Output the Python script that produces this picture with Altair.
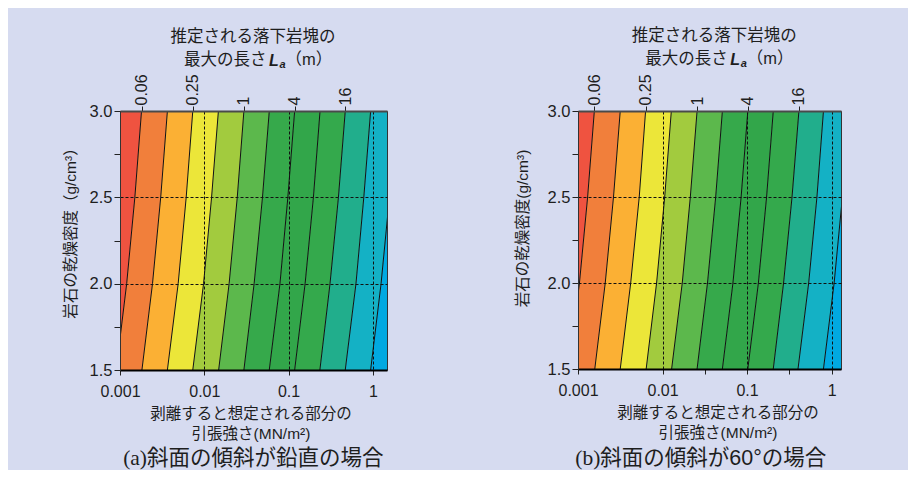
import altair as alt
import pandas as pd

# ---------------- data ----------------
RHO_ROWS = [1.5, 2.0, 2.5, 3.0]                      # dry density rows (g/cm3)
LA_LEVELS = [0.06, 0.125, 0.25, 0.5, 1, 2, 4, 8, 16, 32, 64]   # contour levels La (m)

# tensile strength (MN/m2) where each contour crosses the density rows
# (a) vertical slope
A_SIG_15 = [0.00090, 0.00182, 0.00365, 0.0073, 0.0148, 0.0295, 0.059, 0.118, 0.235, 0.47, 0.94]
A_SIG_20 = [0.00120, 0.00243, 0.0049, 0.0098, 0.0197, 0.039, 0.079, 0.157, 0.31, 0.63, 1.25]
A_SIG_25 = [0.00150, 0.00304, 0.0061, 0.0122, 0.0246, 0.049, 0.098, 0.197, 0.39, 0.78, 1.57]
A_SIG_30 = [0.00180, 0.00365, 0.0073, 0.0147, 0.0295, 0.059, 0.118, 0.236, 0.47, 0.94, 1.88]
# (b) 60 degree slope
B_SIG_15 = [0.00078, 0.00158, 0.00316, 0.0064, 0.0128, 0.0256, 0.051, 0.102, 0.204, 0.40, 0.80]
B_SIG_20 = [0.00104, 0.00210, 0.0042, 0.0085, 0.0171, 0.034, 0.068, 0.136, 0.27, 0.535, 1.07]
B_SIG_25 = [0.00130, 0.00263, 0.0053, 0.0106, 0.0213, 0.0425, 0.085, 0.170, 0.34, 0.67, 1.34]
B_SIG_30 = [0.00156, 0.00316, 0.0063, 0.0127, 0.0256, 0.051, 0.102, 0.204, 0.41, 0.80, 1.60]

BAND_COLORS = ["#ef5340", "#f17f3b", "#fbb034", "#ece639", "#a2cb3e", "#5cb84c",
               "#36a94b", "#32a64a", "#34a94c", "#21ae8c", "#14b1c5", "#01a9e1"]

TOP_LABELS = ["0.06", "0.25", "1", "4", "16"]
A_TOP_VALS = [0.00180, 0.0073, 0.0295, 0.118, 0.47]
B_TOP_VALS = [0.00156, 0.0063, 0.0256, 0.102, 0.41]
BOTTOM_MAJOR = [0.001, 0.01, 0.1, 1]
BOTTOM_GRID = [0.01, 0.1, 1]
A_BOTTOM_MINOR = []
B_BOTTOM_MINOR = [0.0316, 0.316]
Y_TICKS = [1.5, 1.75, 2.0, 2.25, 2.5, 2.75, 3.0]
Y_MAJOR = [1.5, 2.0, 2.5, 3.0]
Y_GRID = [2.0, 2.5]

BG = "#d6dbf0"
INK = "#1e1e1e"
LATIN = "Liberation Sans, Noto Sans CJK JP"
CJK = "Liberation Sans, Noto Sans CJK JP"
SERIF = "Liberation Serif"


def eq_any(vals):
    return " || ".join("abs(datum.value - %r) < %r" % (v, v * 0.001) for v in vals)


def top_label_expr(vals, labels):
    expr = "''"
    for v, lab in reversed(list(zip(vals, labels))):
        expr = "abs(datum.value - %r) < %r ? '%s' : (%s)" % (v, v * 0.01, lab, expr)
    return expr


def txt(s, x, y, size, align="center", baseline="middle", font=CJK, weight="normal",
        style="normal"):
    return alt.Chart(pd.DataFrame({"t": [s]})).mark_text(
        align=align, baseline=baseline, font=font, fontSize=size, fontWeight=weight,
        fontStyle=style, color=INK
    ).encode(x=alt.value(x), y=alt.value(y), text="t:N")


def panel(sig_rows, xmax, w, h, top_vals, minor_x, ytitle, ytx, yty, texts):
    n = len(LA_LEVELS)
    bands = []
    for i in range(n + 1):
        for rho, lst in zip(RHO_ROWS, sig_rows):
            lo = lst[i - 1] if i > 0 else 0.0003
            hi = lst[i] if i < n else 6.0
            bands.append({"band": i, "rho": rho, "lo": lo, "hi": hi})
    bdf = pd.DataFrame(bands)
    ldf = pd.DataFrame([{"level": LA_LEVELS[k], "rho": rho, "sig": lst[k]}
                        for k in range(n) for rho, lst in zip(RHO_ROWS, sig_rows)])

    xs = alt.Scale(type="log", domain=[0.001, xmax], nice=False)
    ys = alt.Scale(domain=[1.5, 3.0], nice=False, zero=False)

    bottom_axis = alt.Axis(
        orient="bottom", values=BOTTOM_MAJOR + minor_x,
        labelExpr="(%s) ? datum.label : ''" % eq_any(BOTTOM_MAJOR), format="~g",
        grid=True, gridDash=[3, 2], gridColor="#111", gridWidth=1,
        gridOpacity={"condition": {"test": eq_any(BOTTOM_GRID), "value": 1}, "value": 0},
        domainColor="#000", domainWidth=2, tickColor="#222", tickSize=5, tickWidth=1,
        labelFont=LATIN, labelFontSize=16, labelColor=INK, labelPadding=8,
        labelFlush=False, labelOverlap=False, title=None, zindex=1)
    top_axis = alt.Axis(
        orient="top", values=top_vals, labelExpr=top_label_expr(top_vals, TOP_LABELS),
        grid=False, domainColor="#4a4a4a", domainWidth=2, tickColor="#222", tickSize=5,
        labelAngle=270, labelAlign="left", labelBaseline="middle", labelPadding=1,
        labelFont=LATIN, labelFontSize=16, labelColor=INK, labelFlush=False,
        labelOverlap=False, title=None, zindex=1)
    y_axis = alt.Axis(
        orient="left", values=Y_TICKS,
        labelExpr="(%s) ? format(datum.value, '.1f') : ''" % eq_any(Y_MAJOR),
        grid=True, gridDash=[3, 2], gridColor="#111", gridWidth=1,
        gridOpacity={"condition": {"test": eq_any(Y_GRID), "value": 1}, "value": 0},
        domainColor="#333", domainWidth=1, tickColor="#222", tickSize=6,
        labelFont=LATIN, labelFontSize=16.5, labelColor=INK, labelPadding=2,
        labelFlush=False, labelOverlap=False,
        title=ytitle, titleFont=CJK, titleFontSize=15.5, titleFontWeight="normal",
        titleColor=INK, titleX=ytx, titleY=yty, titleAngle=270, titleAlign="center",
        titleBaseline="middle", zindex=1)

    area = alt.Chart(bdf).mark_area(orient="horizontal", clip=True).encode(
        y=alt.Y("rho:Q", scale=ys, axis=y_axis),
        x=alt.X("lo:Q", scale=xs, axis=bottom_axis),
        x2="hi:Q",
        color=alt.Color("band:N", scale=alt.Scale(domain=list(range(n + 1)), range=BAND_COLORS),
                        legend=None),
    )
    lines = alt.Chart(ldf).mark_line(clip=True, color="#111", strokeWidth=1).encode(
        x=alt.X("sig:Q", scale=xs, axis=top_axis),
        y=alt.Y("rho:Q", scale=ys, axis=y_axis),
        detail="level:N",
        order=alt.Order("rho:Q"),
    )
    return alt.layer(area, lines, *texts).resolve_axis(x="independent").properties(
        width=w, height=h)


def panel_texts(cx_top, y1, l2x, y2, cx_bot, yb1, yb2, cap_x, cap_y, tag, caption):
    return [
        txt("推定される落下岩塊の", cx_top, y1, 16.5),
        txt("最大の長さ", l2x, y2, 16.5, align="left"),
        txt("L", l2x + 85, y2 + 6.5, 16, align="left", baseline="alphabetic", font=LATIN,
            weight="bold", style="italic"),
        txt("a", l2x + 95.5, y2 + 8.5, 11, align="left", baseline="alphabetic", font=LATIN,
            weight="bold", style="italic"),
        txt("（m）", l2x + 101.5, y2, 16.5, align="left"),
        txt("剥離すると想定される部分の", cx_bot, yb1, 15.5),
        txt("引張強さ(MN/m²)", cx_bot, yb2, 15.5),
        txt(tag, cap_x, cap_y, 21.5, align="right", font=SERIF),
        txt(caption, cap_x, cap_y, 21.5, align="left"),
    ]


pa = panel([A_SIG_15, A_SIG_20, A_SIG_25, A_SIG_30], 1.47, 267, 259, A_TOP_VALS,
           A_BOTTOM_MINOR, "岩石の乾燥密度（g/cm³）", -50, 118,
           panel_texts(133, -74, 64, -51.5, 131, 302.7, 322.7, 27, 348, "(a)",
                       "斜面の傾斜が鉛直の場合"))
pb = panel([B_SIG_15, B_SIG_20, B_SIG_25, B_SIG_30], 1.29, 263, 258, B_TOP_VALS,
           B_BOTTOM_MINOR, "岩石の乾燥密度(g/cm³)", -56, 117,
           panel_texts(136.3, -75, 67.3, -52.5, 140, 301.7, 321.7, 22.3, 348, "(b)",
                       "斜面の傾斜が60°の場合"))

chart = alt.hconcat(pa, pb, spacing=126).properties(
    padding={"left": 54, "top": 19, "right": 66, "bottom": 0},
    background=BG,
).configure_view(stroke="#333", strokeWidth=1)

chart.save("out.html", embed_options={"renderer": "svg", "actions": False})
